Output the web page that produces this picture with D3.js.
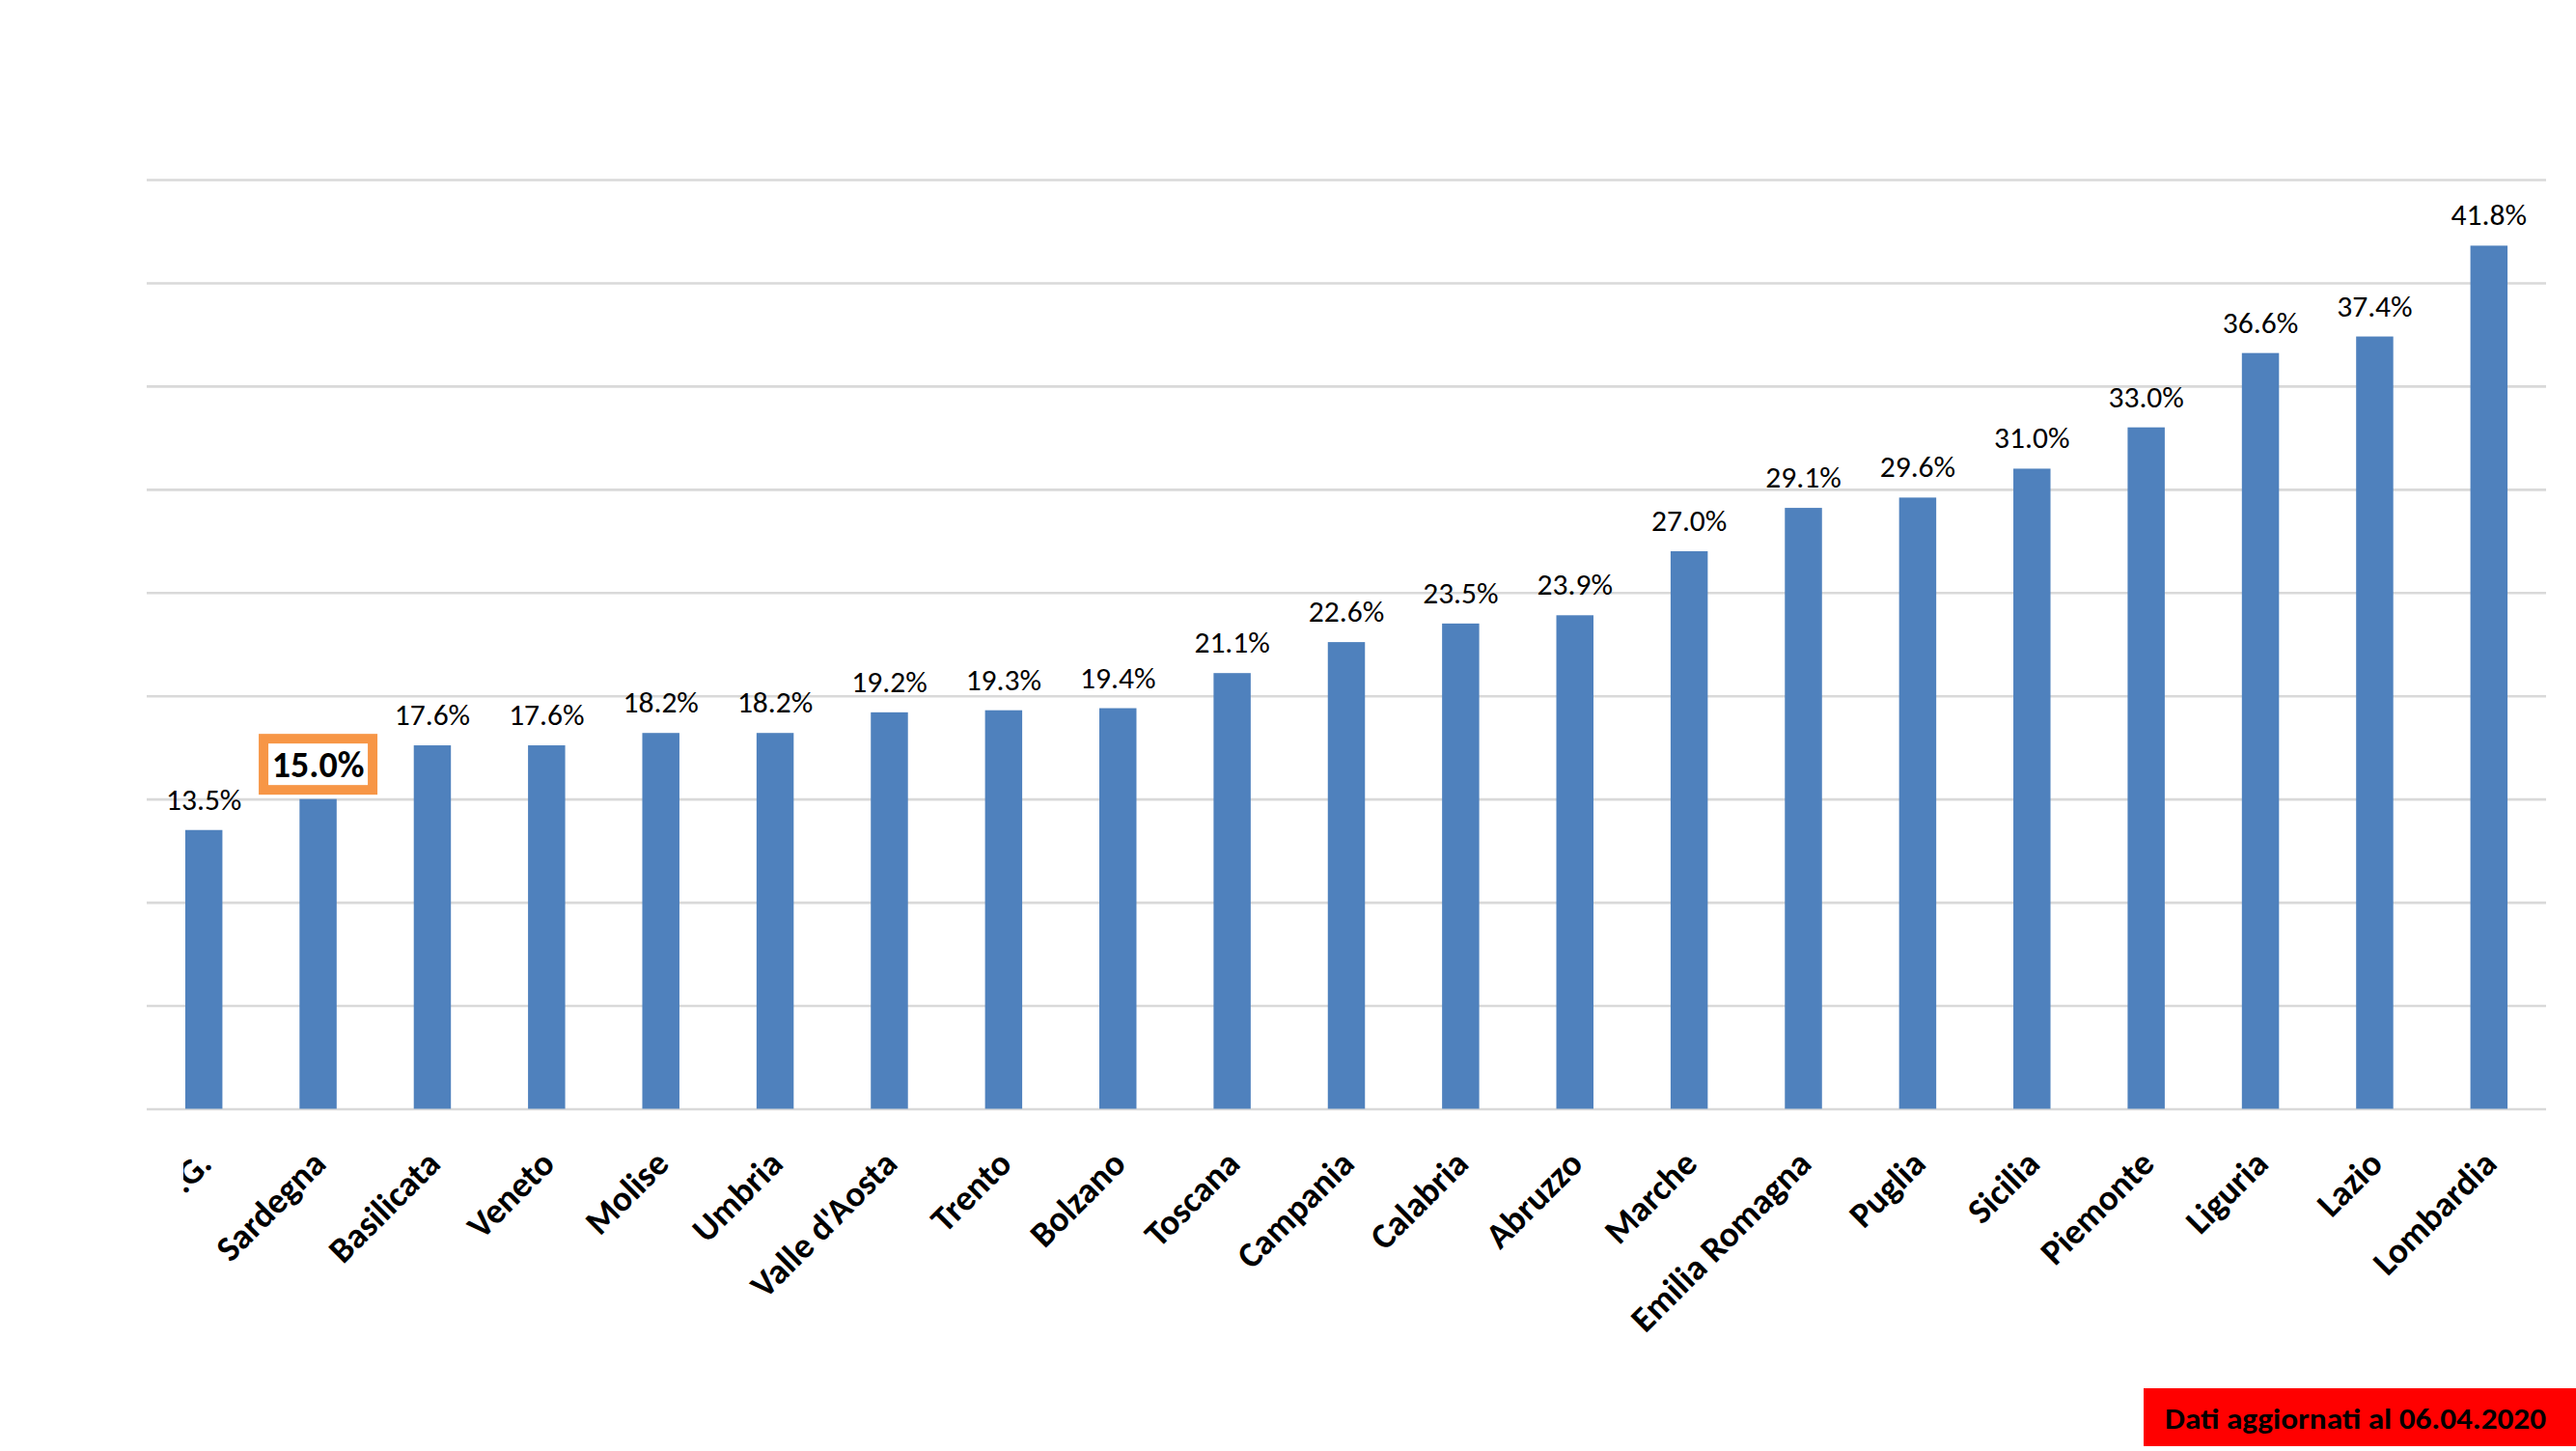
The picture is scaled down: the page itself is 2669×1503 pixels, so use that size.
<!DOCTYPE html>
<html>
<head>
<meta charset="utf-8">
<script src="https://cdn.jsdelivr.net/npm/d3@7"></script>
<style>
  html, body { margin: 0; padding: 0; background: #ffffff; }
  svg { display: block; }
</style>
</head>
<body>
<script>
// ---- Data ----
const categories = ["F.V.G.", "Sardegna", "Basilicata", "Veneto", "Molise", "Umbria",
  "Valle d'Aosta", "Trento", "Bolzano", "Toscana", "Campania", "Calabria", "Abruzzo",
  "Marche", "Emilia Romagna", "Puglia", "Sicilia", "Piemonte", "Liguria", "Lazio", "Lombardia"];
const values = [13.5, 15.0, 17.6, 17.6, 18.2, 18.2, 19.2, 19.3, 19.4, 21.1, 22.6, 23.5, 23.9,
  27.0, 29.1, 29.6, 31.0, 33.0, 36.6, 37.4, 41.8];
const highlighted = ["Sardegna"];
const yTicks = [0, 5, 10, 15, 20, 25, 30, 35, 40, 45];
const noteText = ["Dati aggiornati al 06.04.2020"];

// ---- Layout ----
const W = 2669, H = 1503;
const plot = { left: 152, right: 2638, top: 186, bottom: 1148.5 };
const barColor = "#4f81bd";
const gridColor = "#d9d9d9";
const fontFam = "Carlito, Lato, 'Open Sans', sans-serif";

const svg = d3.select("body").append("svg").attr("width", W).attr("height", H);
svg.append("rect").attr("width", W).attr("height", H).attr("fill", "#ffffff");

const x = d3.scaleBand().domain(categories).range([plot.left, plot.right])
  .paddingInner(0.675).paddingOuter(0.3375).align(0.5);
const y = d3.scaleLinear().domain([0, 45]).range([plot.bottom, plot.top]);

// gridlines
const grid = svg.append("g").attr("transform", `translate(${plot.left},0)`)
  .call(d3.axisLeft(y).tickValues(yTicks).tickSize(-(plot.right - plot.left)).tickFormat(""));
grid.select(".domain").remove();
grid.selectAll(".tick line").attr("stroke", gridColor).attr("stroke-width", 2.6);

const data = categories.map((c, i) => ({ cat: c, val: values[i], hl: highlighted.includes(c) }));

// bars
svg.append("g").selectAll("rect").data(data).join("rect")
  .attr("x", d => x(d.cat))
  .attr("y", d => y(d.val))
  .attr("width", x.bandwidth())
  .attr("height", d => y(0) - y(d.val))
  .attr("fill", barColor);

// value labels
const fmt = v => v.toFixed(1) + "%";
const labels = svg.append("g");
data.forEach(d => {
  const cx = x(d.cat) + x.bandwidth() / 2;
  if (d.hl) {
    const bw = 113, bh = 53;
    labels.append("rect")
      .attr("x", cx - bw / 2).attr("y", y(d.val) - 9.5 - bh)
      .attr("width", bw).attr("height", bh)
      .attr("fill", "#ffffff").attr("stroke", "#f79646").attr("stroke-width", 10);
    labels.append("text")
      .attr("x", cx).attr("y", y(d.val) - 22.5)
      .attr("text-anchor", "middle")
      .attr("font-family", fontFam).attr("font-weight", "bold").attr("font-size", 38)
      .attr("fill", "#000").text(fmt(d.val));
  } else {
    labels.append("text")
      .attr("x", cx).attr("y", y(d.val) - 21)
      .attr("text-anchor", "middle")
      .attr("font-family", fontFam).attr("font-size", 31.5)
      .attr("fill", "#000").text(fmt(d.val));
  }
});

// category labels (clipped on the left like the reference)
svg.append("defs").append("clipPath").attr("id", "catclip")
  .append("rect").attr("x", 190).attr("y", 0).attr("width", W - 190).attr("height", H);
const cats = svg.append("g").attr("clip-path", "url(#catclip)");
cats.selectAll("text").data(data).join("text")
  .attr("transform", d => `translate(${x(d.cat) + x.bandwidth() / 2 + 1},${plot.bottom + 50}) rotate(-45)`)
  .attr("text-anchor", "end")
  .attr("dy", "0.35em")
  .attr("font-family", fontFam).attr("font-weight", "bold").attr("font-size", 37)
  .attr("fill", "#000")
  .text(d => d.cat);

// note box
const note = svg.append("g");
note.append("rect").attr("x", 2221).attr("y", 1438).attr("width", W - 2221).attr("height", 60)
  .attr("fill", "#ff0000");
note.append("text").attr("x", 2243).attr("y", 1480)
  .attr("font-family", fontFam).attr("font-weight", "bold").attr("font-size", 31)
  .attr("textLength", 395).attr("lengthAdjust", "spacingAndGlyphs")
  .attr("fill", "#000").text(noteText[0]);
</script>
</body>
</html>
